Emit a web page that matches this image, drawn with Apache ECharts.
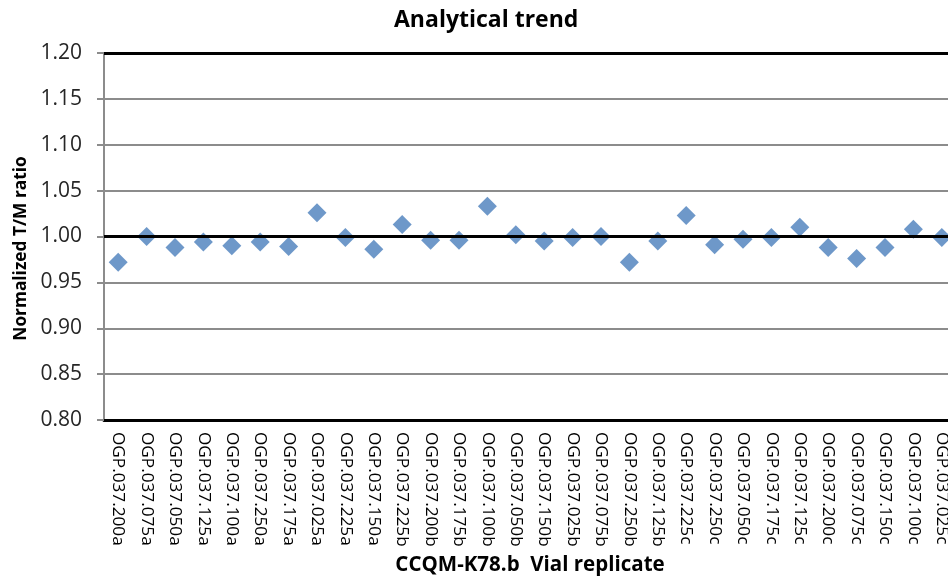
<!DOCTYPE html>
<html>
<head>
<meta charset="utf-8">
<title>Analytical trend</title>
<script src="https://cdn.jsdelivr.net/npm/echarts@6/dist/echarts.min.js"></script>
<style>
  html, body { margin: 0; padding: 0; background: #fff; }
  #chart { width: 948px; height: 577px; }
</style>
</head>
<body>
<div id="chart"></div>
<script>
// vial replicates, in run order
const vials = [
  "OGP.037.200a", "OGP.037.075a", "OGP.037.050a", "OGP.037.125a", "OGP.037.100a",
  "OGP.037.250a", "OGP.037.175a", "OGP.037.025a", "OGP.037.225a", "OGP.037.150a",
  "OGP.037.225b", "OGP.037.200b", "OGP.037.175b", "OGP.037.100b", "OGP.037.050b",
  "OGP.037.150b", "OGP.037.025b", "OGP.037.075b", "OGP.037.250b", "OGP.037.125b",
  "OGP.037.225c", "OGP.037.250c", "OGP.037.050c", "OGP.037.175c", "OGP.037.125c",
  "OGP.037.200c", "OGP.037.075c", "OGP.037.150c", "OGP.037.100c", "OGP.037.025c"
];

// normalized T/M ratio per vial
const tmRatio = [
  0.972, 1.000, 0.988, 0.994, 0.990, 0.994, 0.989, 1.026, 0.999, 0.986,
  1.013, 0.996, 0.996, 1.033, 1.002, 0.995, 0.999, 1.000, 0.972, 0.995,
  1.023, 0.991, 0.997, 0.999, 1.010, 0.988, 0.976, 0.988, 1.008, 0.999
];

// y axis range
const yMin = 0.80;
const yMax = 1.20;
const yStep = 0.05;
// reference line + top frame
const refLines = [1.00, 1.20];

const font = "Open Sans";

let myChart = echarts.init(document.getElementById("chart"));

let option = {
  animation: false,
  title: {
    text: "Analytical trend",
    left: 389,
    top: 4,
    textStyle: {
      fontFamily: font,
      fontSize: 23,
      fontWeight: "bold",
      color: "#000",
    },
  },
  grid: {
    left: 104,
    top: 53,
    width: 852,
    height: 367,
    containLabel: false,
    outerBoundsMode: "none", // plot runs past the right edge like the original
  },
  xAxis: {
    type: "category",
    data: vials,
    boundaryGap: true,
    name: "CCQM-K78.b  Vial replicate",
    nameLocation: "middle",
    nameGap: 135,
    nameTextStyle: {
      fontFamily: font,
      fontSize: 20.5,
      fontWeight: "bold",
      color: "#000",
    },
    axisLine: {
      lineStyle: { color: "#000", width: 3 },
    },
    axisTick: { show: false },
    axisLabel: {
      interval: 0,
      rotate: -90,
      margin: 12,
      fontFamily: font,
      fontSize: 17.2,
      color: "#000",
    },
    splitLine: { show: false },
  },
  yAxis: {
    type: "value",
    min: yMin,
    max: yMax,
    interval: yStep,
    name: "Normalized T/M ratio",
    nameLocation: "middle",
    nameGap: 68,
    nameTextStyle: {
      fontFamily: font,
      fontSize: 17.3,
      fontWeight: "bold",
      color: "#000",
      padding: [0, 24, 0, 0],
    },
    axisLine: {
      show: true,
      lineStyle: { color: "#8c8c8c", width: 2 },
    },
    axisTick: {
      show: true,
      length: 7,
      lineStyle: { color: "#8c8c8c", width: 2 },
    },
    axisLabel: {
      margin: 22,
      fontFamily: font,
      fontSize: 21,
      color: "#262626",
      formatter: (v) => v.toFixed(2),
    },
    splitLine: {
      show: true,
      lineStyle: { color: "#8c8c8c", width: 2 },
    },
  },
  series: [
    {
      // black lines at 1.00 and at the top of the plot
      type: "line",
      data: [],
      z: 1,
      silent: true,
      markLine: {
        silent: true,
        symbol: "none",
        label: { show: false },
        lineStyle: { color: "#000", width: 3, type: "solid" },
        data: refLines.map((v) => ({ yAxis: v })),
      },
    },
    {
      name: "Normalized T/M ratio",
      type: "scatter",
      z: 3,
      symbol: "diamond",
      symbolSize: 19,
      itemStyle: { color: "#4a7ebb" },
      data: tmRatio,
    },
  ],
};

myChart.setOption(option);
</script>
</body>
</html>
